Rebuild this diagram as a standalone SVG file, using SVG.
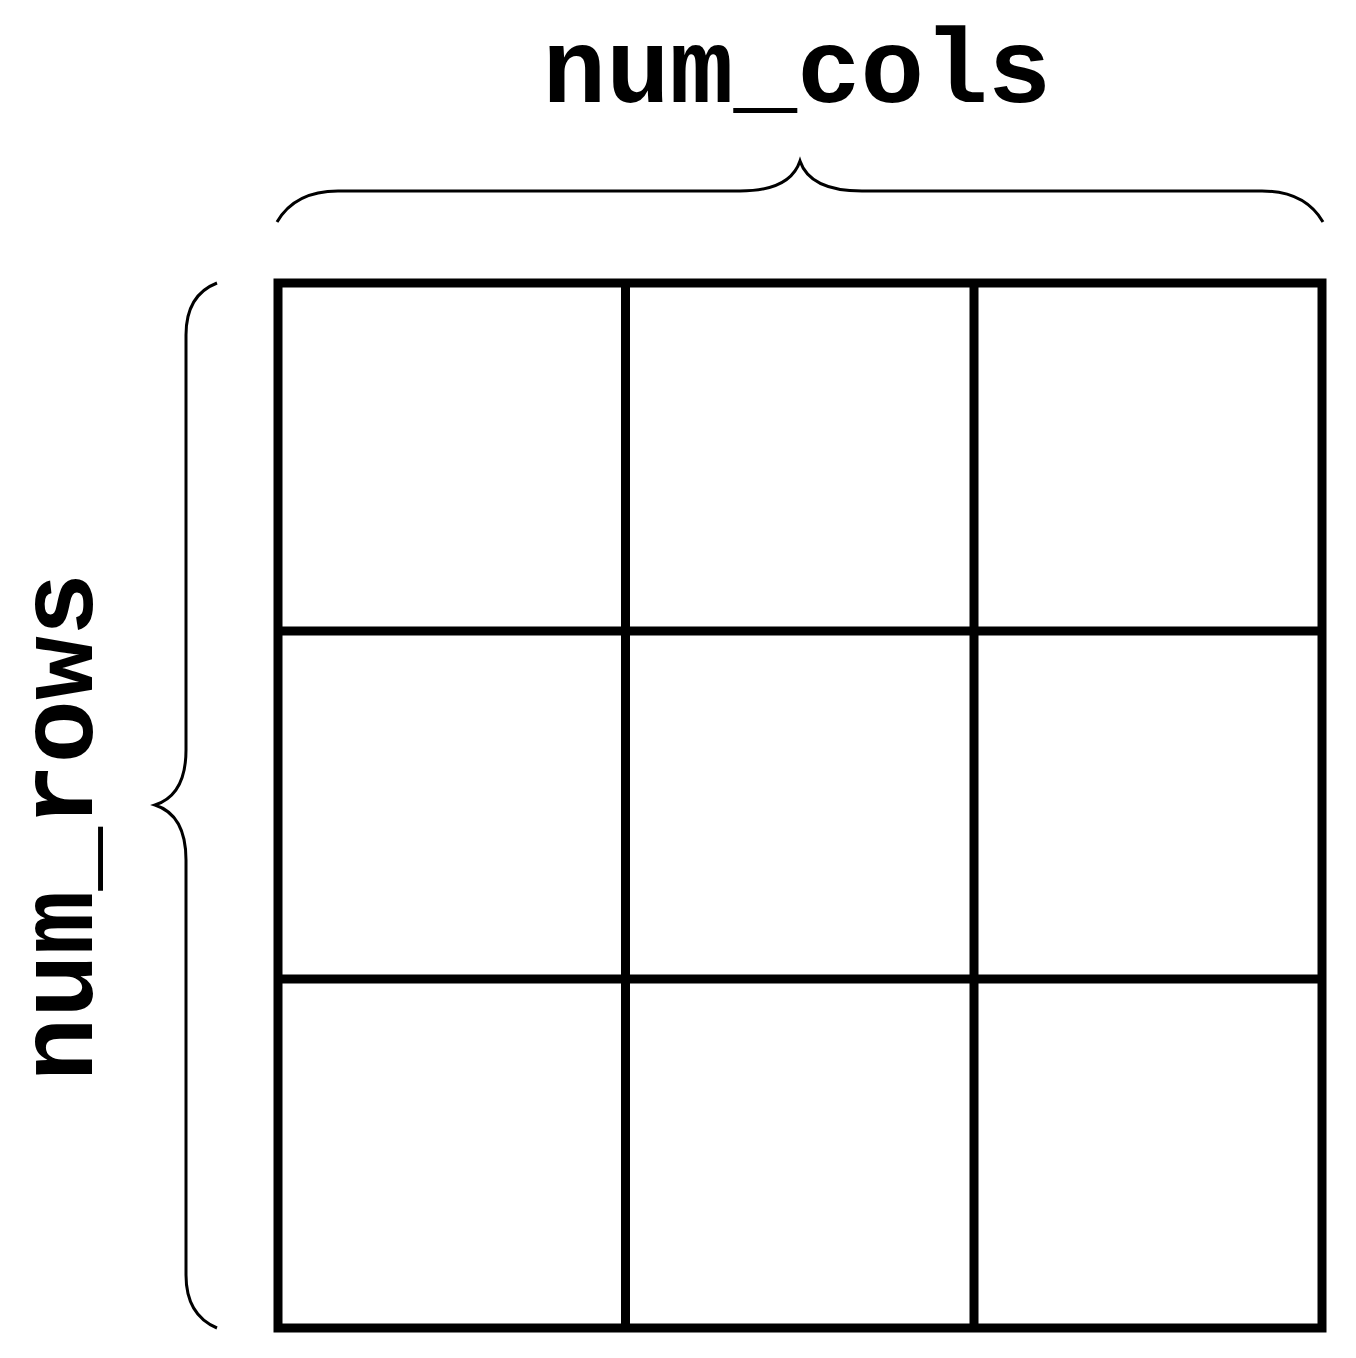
<svg xmlns="http://www.w3.org/2000/svg" width="1356" height="1358" viewBox="0 0 1356 1358">
<style>
.lbl{font-family:"Liberation Mono","Courier New",monospace;font-weight:bold;font-size:106px;fill:#000;text-anchor:middle}
.grid{stroke:#000;stroke-width:9;fill:none}
.brace{stroke:#000;stroke-width:3;fill:none}
</style>
<rect width="1356" height="1358" fill="#fff"/>
<g id="grid">
<rect class="grid" x="278" y="283" width="1044" height="1045"/>
<line class="grid" x1="625.5" y1="283" x2="625.5" y2="1328"/>
<line class="grid" x1="974" y1="283" x2="974" y2="1328"/>
<line class="grid" x1="278" y1="631" x2="1322" y2="631"/>
<line class="grid" x1="278" y1="979" x2="1322" y2="979"/>
</g>
<g id="braces">
<path class="brace" d="M277,222 Q295,191 338,191 L740,191 Q790,191 800,161 Q810,191 862,191 L1262,191 Q1305,191 1323,222"/>
<path class="brace" d="M217,283 Q186,295 186,335 L186,750 Q186,795 155,805 Q186,815 186,860 L186,1275 Q186,1315 217,1328"/>
</g>
<g id="labels">
<text class="lbl" x="797" y="102">num_cols</text>
<text class="lbl" transform="translate(92,827) rotate(-90)" x="0" y="0">num_rows</text>
</g>
</svg>
